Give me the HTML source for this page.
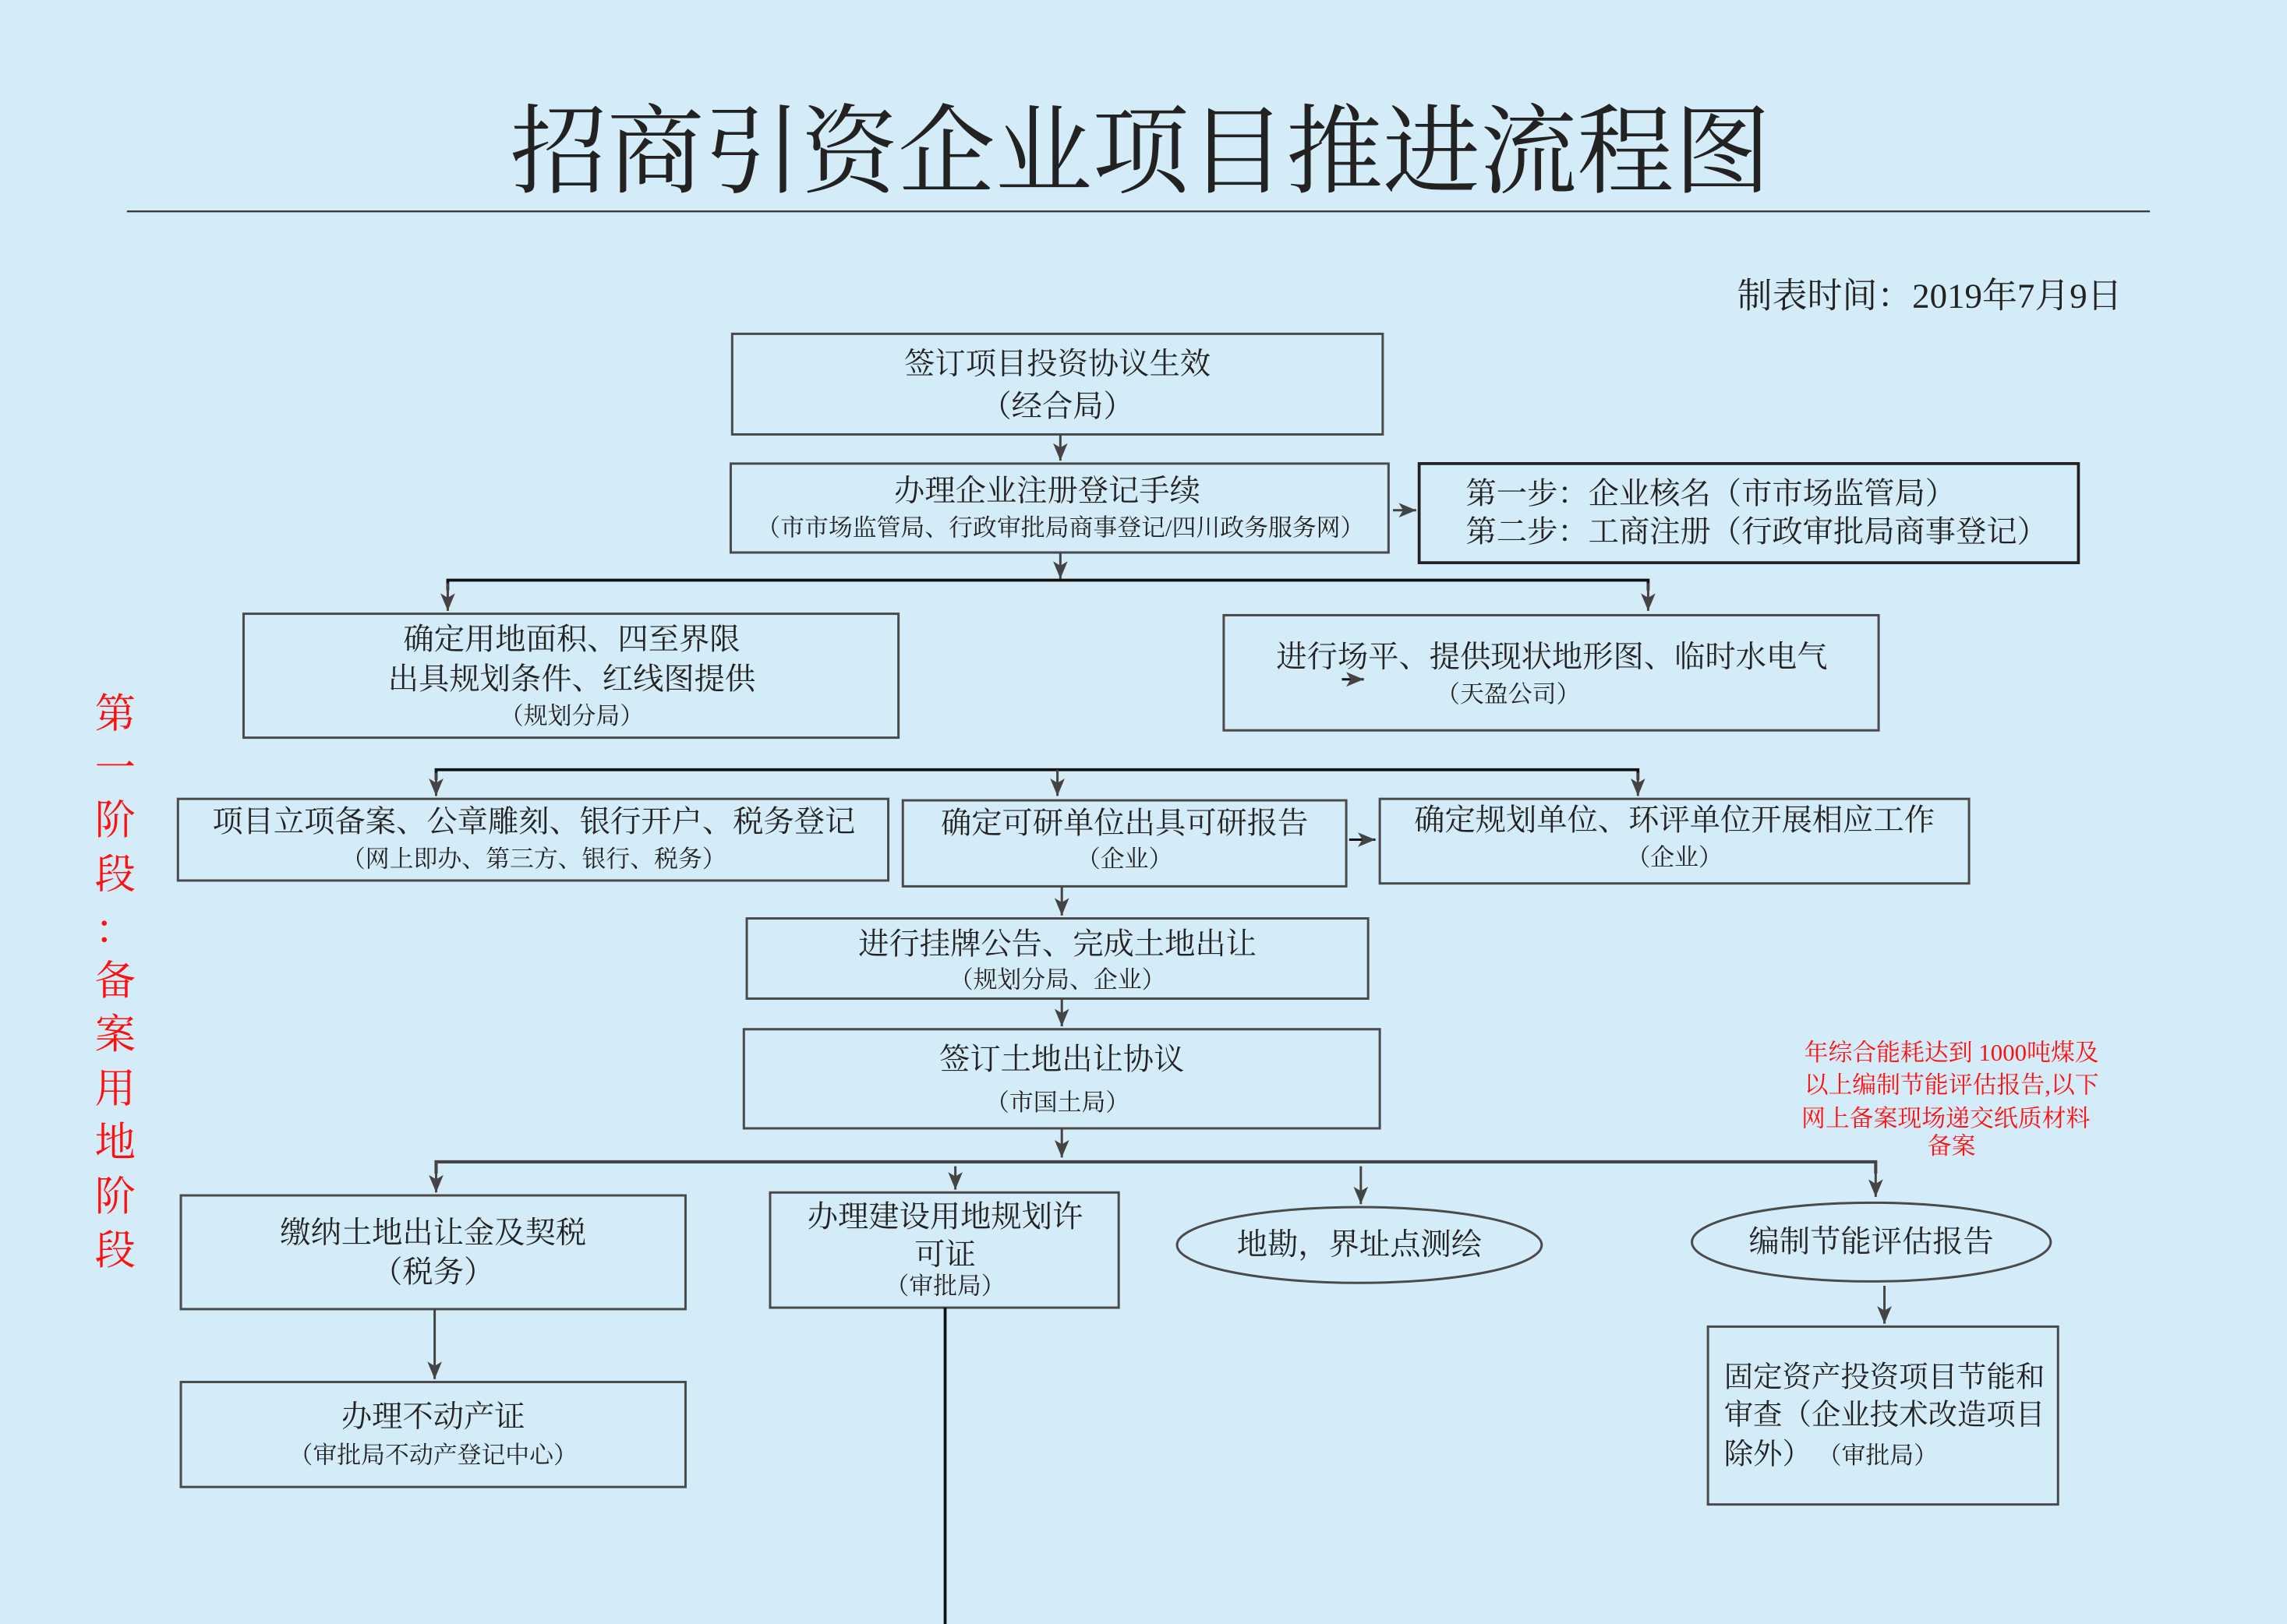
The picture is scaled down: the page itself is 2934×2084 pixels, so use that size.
<!DOCTYPE html>
<html><head><meta charset="utf-8"><style>
html,body{margin:0;padding:0;background:#d4ebf8;}
svg{display:block;}
text{font-family:"Liberation Serif","Noto Serif CJK SC","Noto Sans CJK SC",serif;fill:#222;}
.m{font-size:21px;}
.s{font-size:16.5px;}
.r{fill:#ff1010;}
</style></head><body>
<svg width="2934" height="2084" viewBox="0 0 1568 1114" preserveAspectRatio="none" xmlns="http://www.w3.org/2000/svg">
<defs><marker id="a" markerWidth="12" markerHeight="10" refX="12" refY="5" orient="auto" markerUnits="userSpaceOnUse" viewBox="0 0 12 10"><path d="M0,0 L3,5 L0,10 L12,5 Z" fill="#444"/></marker></defs>
<rect width="1568" height="1114" fill="#d4ebf8"/>
<text x="782" y="127" text-anchor="middle" style="font-size:66.5px" fill="#111">招商引资企业项目推进流程图</text>
<line x1="87" y1="145" x2="1474" y2="145" stroke="#333" stroke-width="1.2"/>
<text x="1455" y="211" text-anchor="end" style="font-size:24px">制表时间：2019年7月9日</text>

<g fill="none" stroke="#4a4a4a" stroke-width="1.6">
<rect x="502" y="229" width="446" height="69"/>
<rect x="501" y="318" width="451" height="61"/>
<rect x="973" y="318" width="452" height="68" stroke="#222" stroke-width="2"/>
<rect x="167" y="421" width="449" height="85"/>
<rect x="839" y="422" width="449" height="79"/>
<rect x="122" y="548" width="487" height="56"/>
<rect x="619" y="549" width="304" height="59"/>
<rect x="946" y="548" width="404" height="58"/>
<rect x="512" y="630" width="426" height="55"/>
<rect x="510" y="706" width="436" height="68"/>
<rect x="124" y="820" width="346" height="78"/>
<rect x="528" y="818" width="239" height="79"/>
<ellipse cx="932" cy="854" rx="125" ry="26"/>
<ellipse cx="1283" cy="852" rx="123" ry="27"/>
<rect x="1171" y="910" width="240" height="122"/>
<rect x="124" y="948" width="346" height="72"/>
</g>

<g stroke="#444" stroke-width="1.6" fill="none">
<line x1="727" y1="298" x2="727" y2="316" marker-end="url(#a)"/>
<line x1="727" y1="379" x2="727" y2="397" marker-end="url(#a)"/>
<line x1="955" y1="350" x2="971" y2="350" marker-end="url(#a)"/>
<polyline points="307,405 307,398 1130,398 1130,405" stroke="#111" stroke-width="2"/>
<line x1="307" y1="400" x2="307" y2="419" marker-end="url(#a)"/>
<line x1="1130" y1="400" x2="1130" y2="419" marker-end="url(#a)"/>
<line x1="920" y1="466" x2="935" y2="466" stroke="#111" marker-end="url(#a)"/>
<polyline points="299,535 299,528 1123,528 1123,535" stroke="#111" stroke-width="2"/>
<line x1="299" y1="530" x2="299" y2="546" marker-end="url(#a)"/>
<line x1="725" y1="528" x2="725" y2="546" marker-end="url(#a)"/>
<line x1="1123" y1="530" x2="1123" y2="546" marker-end="url(#a)"/>
<line x1="925" y1="576" x2="943" y2="576" stroke="#111" marker-end="url(#a)"/>
<line x1="728" y1="608" x2="728" y2="628" marker-end="url(#a)"/>
<line x1="728" y1="685" x2="728" y2="704" marker-end="url(#a)"/>
<line x1="728" y1="774" x2="728" y2="794" marker-end="url(#a)"/>
<polyline points="299,805 299,797 1286,797 1286,805" stroke-width="2.2"/>
<line x1="299" y1="799" x2="299" y2="818" marker-end="url(#a)"/>
<line x1="1286" y1="799" x2="1286" y2="821" marker-end="url(#a)"/>
<line x1="655" y1="800" x2="655" y2="816" marker-end="url(#a)"/>
<line x1="933" y1="800" x2="933" y2="826" marker-end="url(#a)"/>
<line x1="1292" y1="882" x2="1292" y2="908" marker-end="url(#a)"/>
<line x1="298" y1="898" x2="298" y2="946" marker-end="url(#a)"/>
<line x1="648" y1="897" x2="648" y2="1114" stroke="#111" stroke-width="2"/>
</g>

<g text-anchor="middle" dominant-baseline="central">
<text class="m" x="725" y="250">签订项目投资协议生效</text>
<text class="m" x="725" y="279">（经合局）</text>
<text class="m" x="718" y="337">办理企业注册登记手续</text>
<text class="s" x="727" y="362">（市市场监管局、行政审批局商事登记/四川政务服务网）</text>
<text class="m" x="392" y="439">确定用地面积、四至界限</text>
<text class="m" x="392" y="466">出具规划条件、红线图提供</text>
<text class="s" x="392" y="491">（规划分局）</text>
<text class="m" x="1064" y="451">进行场平、提供现状地形图、临时水电气</text>
<text class="s" x="1034" y="476">（天盈公司）</text>
<text class="m" x="366" y="564">项目立项备案、公章雕刻、银行开户、税务登记</text>
<text class="s" x="366" y="589">（网上即办、第三方、银行、税务）</text>
<text class="m" x="771" y="565">确定可研单位出具可研报告</text>
<text class="s" x="771" y="589">（企业）</text>
<text class="m" x="1148" y="563">确定规划单位、环评单位开展相应工作</text>
<text class="s" x="1148" y="588">（企业）</text>
<text class="m" x="725" y="648">进行挂牌公告、完成土地出让</text>
<text class="s" x="725" y="672">（规划分局、企业）</text>
<text class="m" x="728" y="727">签订土地出让协议</text>
<text class="s" x="725" y="756">（市国土局）</text>
<text class="m" x="297" y="846">缴纳土地出让金及契税</text>
<text class="m" x="297" y="873">（税务）</text>
<text class="m" x="648" y="835">办理建设用地规划许</text>
<text class="m" x="648" y="861">可证</text>
<text class="s" x="648" y="882">（审批局）</text>
<text class="m" x="932" y="854">地勘，界址点测绘</text>
<text class="m" x="1283" y="852">编制节能评估报告</text>
<text class="m" x="297" y="972">办理不动产证</text>
<text class="s" x="297" y="998">（审批局不动产登记中心）</text>
<text class="s r" x="1338" y="722">年综合能耗达到 1000吨煤及</text>
<text class="s r" x="1338" y="744">以上编制节能评估报告,以下</text>
<text class="s r" x="1334" y="767">网上备案现场递交纸质材料</text>
<text class="s r" x="1338" y="786">备案</text>
</g>
<g dominant-baseline="central">
<text class="m" x="1005" y="339">第一步：企业核名（市市场监管局）</text>
<text class="m" x="1005" y="365">第二步：工商注册（行政审批局商事登记）</text>
<text x="1182" y="945" style="font-size:20px">固定资产投资项目节能和</text>
<text x="1182" y="971" style="font-size:20px">审查（企业技术改造项目</text>
<text x="1182" y="998" style="font-size:20px">除外）<tspan class="s"> （审批局）</tspan></text>
</g>
<g text-anchor="middle" dominant-baseline="central" style="font-size:28px">
<text class="r" x="79" y="490">第</text>
<text class="r" x="79" y="527">一</text>
<text class="r" x="79" y="563">阶</text>
<text class="r" x="79" y="600">段</text>
<text class="r" x="79" y="638">：</text>
<text class="r" x="79" y="673">备</text>
<text class="r" x="79" y="710">案</text>
<text class="r" x="79" y="747">用</text>
<text class="r" x="79" y="784">地</text>
<text class="r" x="79" y="821">阶</text>
<text class="r" x="79" y="858">段</text>
</g>
</svg>
</body></html>
